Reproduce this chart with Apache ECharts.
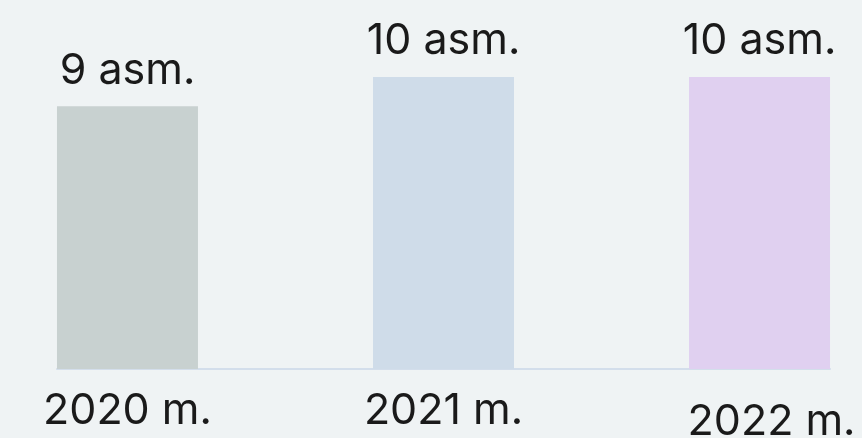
<!DOCTYPE html>
<html>
<head>
<meta charset="utf-8">
<script src="https://cdn.jsdelivr.net/npm/echarts@6/dist/echarts.min.js"></script>
<style>
  html, body { margin: 0; padding: 0; background: #eff3f4; }
  #chart { width: 862px; height: 438px; }
</style>
</head>
<body>
<div id="chart"></div>
<script>
const years = ['2020 m.', '2021 m.', '2022 m.']
const counts = [9, 10, 10]
const barColors = ['#c8d1d0', '#cfdce9', '#e0d0f0']

const chart = echarts.init(document.getElementById('chart'))

// value x axis so the bars can sit where the original put them
const data = counts.map((v, i) => [i, v])

const option = {
  backgroundColor: '#eff3f4',
  animation: false,
  grid: { left: 57, right: 32, top: 77, bottom: 69, outerBoundsMode: 'none', containLabel: false },
  xAxis: {
    type: 'value',
    min: -0.223,
    max: 2.223,
    splitLine: { show: false },
    axisTick: { show: false },
    axisLine: { show: true, lineStyle: { color: '#d3deeb', width: 2 } },
    axisLabel: {
      customValues: [0, 1, 2],
      margin: 21,
      fontFamily: 'Inter',
      fontSize: 43,
      color: '#1a1a1a',
      formatter: function (v) {
        const i = Math.round(v)
        // the last label sits a bit lower and to the right in the original
        return i === 2 ? '{shift|' + years[i] + '}' : years[i]
      },
      rich: {
        shift: {
          fontFamily: 'Inter',
          fontSize: 43,
          color: '#1a1a1a',
          padding: [11, 0, 0, 24]
        }
      }
    }
  },
  yAxis: {
    type: 'value',
    min: 0,
    max: 10,
    show: false
  },
  series: [
    {
      type: 'bar',
      barWidth: 141,
      data: data,
      itemStyle: {
        color: function (p) {
          return barColors[p.dataIndex]
        }
      },
      label: {
        show: true,
        position: 'top',
        distance: 14,
        fontFamily: 'Inter',
        fontSize: 43,
        color: '#1a1a1a',
        formatter: function (p) {
          return p.value[1] + ' asm.'
        }
      }
    }
  ]
}

option && chart.setOption(option)
</script>
</body>
</html>
